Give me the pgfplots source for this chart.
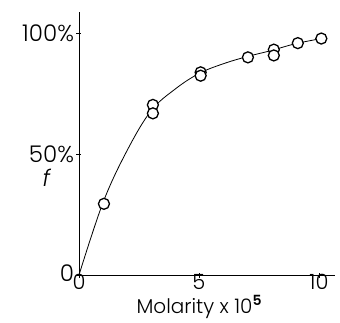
\documentclass[border=0pt]{standalone}
\usepackage{pgfplots}
\pgfplotsset{compat=1.18}
\usepackage{fontspec}
\setmainfont{Poppins Light}
\begin{document}
\begin{tikzpicture}
\useasboundingbox (-79pt,-47pt) rectangle (261pt,275pt);
\begin{axis}[
  scale only axis, width=256pt, height=263pt,
  at={(0,0)}, anchor=south west,
  xmin=0, xmax=10.67, ymin=0, ymax=109,
  axis lines=left, axis line style={-, line width=0.8pt},
  xtick={0,5,10}, xticklabels={0,5,10},
  ytick={0,50,100}, yticklabels={\raisebox{4pt}{0},50\%,100\%},
  tick style={black, line width=0.6pt}, major tick length=5pt, tick align=center,
  font=\fontsize{23}{26}\selectfont,
  xticklabel style={font=\fontsize{21}{22}\selectfont, yshift=4pt, inner sep=0.5pt},
  yticklabel style={xshift=1pt},
  xlabel={Molarity x 10\textsuperscript{\textbf{5}}},
  xlabel style={font=\fontsize{20}{21}\selectfont, at={(axis description cs:0.47,-0.146)}, anchor=base, inner sep=0.5pt},
  ylabel={\textit{f}},
  ylabel style={rotate=-90, at={(axis description cs:-0.125,0.37)}, anchor=center},
  clip=false,
]
\addplot[smooth, tension=0.6, line width=0.8pt, black] coordinates {(0,0)(1,30)(2,51.5)(3,68)(4,77)(5,83.5)(6,87.5)(7,90.5)(8,93)(9,95.8)(10.1,98)};
\addplot[only marks, mark=*, mark size=5.5pt, mark options={fill=white, draw=black, line width=1.3pt}] coordinates {(1.04,29.5)(3.08,70.5)(3.08,67)(5.07,84)(5.07,82.6)(7.04,90.2)(8.12,93.4)(8.12,91)(9.12,96.1)(10.1,98)};
\end{axis}
\end{tikzpicture}
\end{document}
